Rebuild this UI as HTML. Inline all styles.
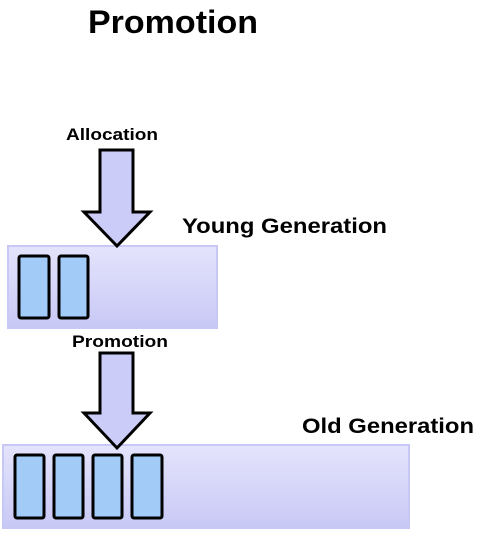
<!DOCTYPE html>
<html><head><style>
body{margin:0;width:482px;height:536px;background:#fff;overflow:hidden}
</style></head><body>
<svg width="482" height="536" xmlns="http://www.w3.org/2000/svg" style="display:block">
<defs>
<linearGradient id="g" x1="0" y1="0" x2="0" y2="1">
<stop offset="0" stop-color="#e4e4fc"/><stop offset="1" stop-color="#c8c8f6"/>
</linearGradient>
</defs>
<g font-family="Liberation Sans, sans-serif" font-weight="bold" fill="#000" lengthAdjust="spacingAndGlyphs">
<text x="88" y="33" font-size="32" textLength="170" lengthAdjust="spacingAndGlyphs">Promotion</text>
<text x="66" y="140" font-size="17" textLength="92" lengthAdjust="spacingAndGlyphs">Allocation</text>
<text x="182" y="233" font-size="21" textLength="205" lengthAdjust="spacingAndGlyphs">Young Generation</text>
<text x="72" y="347" font-size="17" textLength="96" lengthAdjust="spacingAndGlyphs">Promotion</text>
<text x="302" y="433" font-size="21" textLength="172" lengthAdjust="spacingAndGlyphs">Old Generation</text>
</g>
<rect x="8" y="246" width="209" height="82" fill="url(#g)" stroke="#c8c8f6" stroke-width="2"/>
<rect x="3" y="445" width="406" height="83" fill="url(#g)" stroke="#c8c8f6" stroke-width="2"/>
<g fill="#a2cbf7" stroke="#000" stroke-width="3">
<rect x="19" y="256" width="30" height="62" rx="2"/>
<rect x="59" y="256" width="29" height="62" rx="2"/>
<rect x="15" y="455" width="29" height="63" rx="2"/>
<rect x="54" y="455" width="29" height="63" rx="2"/>
<rect x="93" y="455" width="29" height="63" rx="2"/>
<rect x="132" y="455" width="30" height="63" rx="2"/>
</g>
<g fill="#ccccf8" stroke="#000" stroke-width="3" stroke-linejoin="miter">
<polygon points="100,150 133,150 133,212 150,212 117,246 84,212 100,212"/>
<polygon points="100,353 133,353 133,413 150,413 117,448 84,413 100,413"/>
</g>
</svg>
</body></html>
